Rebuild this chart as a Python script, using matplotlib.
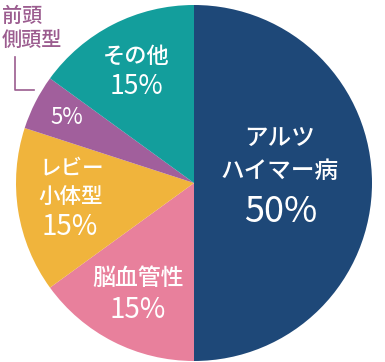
import matplotlib
matplotlib.use("Agg")
import matplotlib.pyplot as plt

plt.rcParams['font.family'] = ['Noto Sans CJK JP', 'DejaVu Sans']

categories = ["アルツハイマー病", "脳血管性", "レビー小体型", "前頭側頭型", "その他"]
values = [50, 15, 15, 5, 15]
colors = ["#1e4878", "#e8809c", "#f0b43c", "#a15f9c", "#139e9c"]

W, H = 385, 362
fig = plt.figure(figsize=(W / 100, H / 100), dpi=100)
ax = fig.add_axes([0, 0, 1, 1])

cx, cy, r = 194, H - 183, 178
ax.pie(values, colors=colors, startangle=90, counterclock=False,
       center=(cx, cy), radius=r, wedgeprops=dict(linewidth=0))
ax.set_xlim(0, W)
ax.set_ylim(0, H)
ax.set_aspect('equal')
ax.axis('off')

def t(x, y, s, size, color="white", weight='medium', **kw):
    ax.text(x, H - y, s, fontsize=size, color=color, ha='center', va='center',
            fontweight=weight, **kw)

# Alzheimer
t(280, 138, "アルツ", 17)
t(280, 171, "ハイマー病", 17)
t(281, 212, f"{values[0]}%", 26, weight='normal')
# vascular
t(138, 278, "脳血管性", 16.5)
t(138, 310, f"{values[1]}%", 20, weight='normal')
# Lewy
t(72, 168, "レビー", 15.5)
t(71, 197, "小体型", 15.5)
t(70, 227, f"{values[2]}%", 20, weight='normal')
# frontotemporal
t(67, 117, f"{values[3]}%", 16, weight='normal')
# other
t(136, 56, "その他", 16)
t(136, 87, f"{values[4]}%", 19, weight='normal')

purple = "#9b5c8f"
ax.text(2, H - 16, "前頭", fontsize=14.5, color=purple, ha='left', va='center', fontweight='medium')
ax.text(2, H - 40, "側頭型", fontsize=14.5, color=purple, ha='left', va='center', fontweight='medium')
ax.plot([15, 15, 34], [H - 57, H - 90, H - 90], color=purple, linewidth=1.2)

fig.savefig("out.png", dpi=100)
